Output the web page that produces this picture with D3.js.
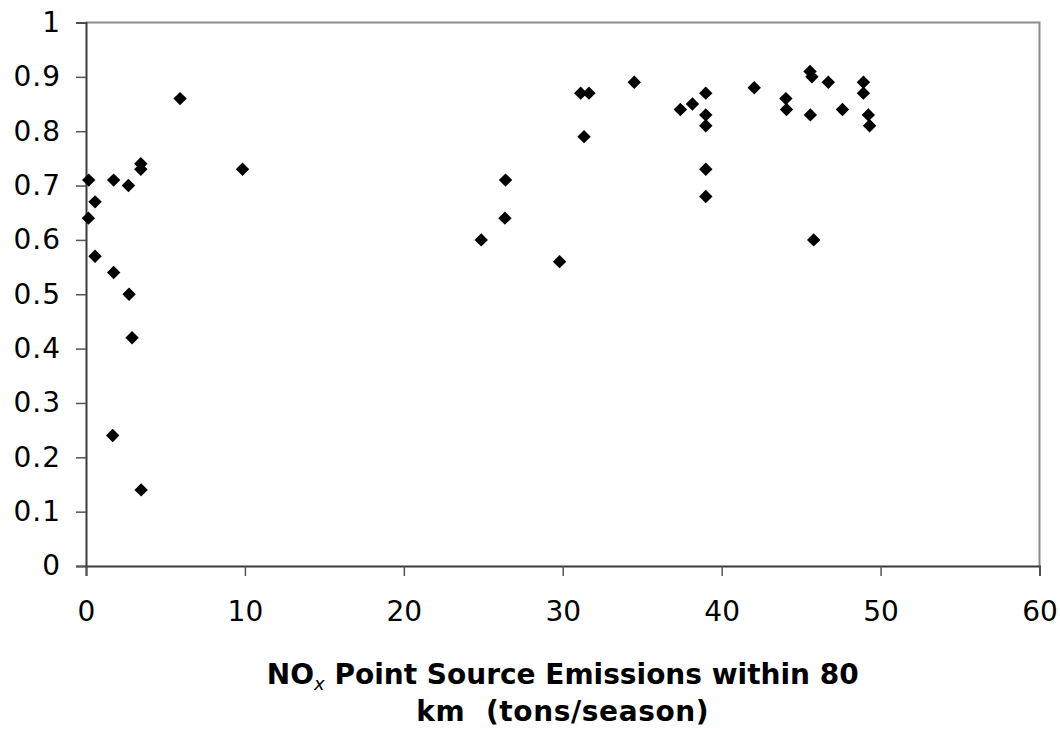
<!DOCTYPE html>
<html>
<head>
<meta charset="utf-8">
<script src="https://cdn.jsdelivr.net/npm/d3@7"></script>
<style>
  html, body { margin: 0; padding: 0; background: #fff; }
  svg { display: block; }
  text { font-family: "DejaVu Sans", Verdana, sans-serif; fill: #000; }
</style>
</head>
<body>
<svg id="chart" width="1060" height="730"></svg>
<script>
// NOx point source emissions within 80 km (tons/season)
const emissions = [
  0.17, 1.74, 2.67, 3.45, 3.45, 0.57, 0.15, 0.57, 1.74, 2.71,
  2.9, 1.68, 3.47, 5.92, 9.85,
  24.87, 26.36, 26.4, 29.8, 31.13, 31.65, 31.34, 34.5, 37.4, 38.16,
  39.0, 39.0, 39.0, 39.0, 39.0,
  42.05, 44.04, 44.08, 45.56, 45.68, 46.71, 45.58, 47.6, 48.92, 48.92,
  49.23, 49.31, 45.79
];
// paired response values
const response = [
  0.71, 0.71, 0.70, 0.74, 0.73, 0.67, 0.64, 0.57, 0.54, 0.50,
  0.42, 0.24, 0.14, 0.86, 0.73,
  0.60, 0.64, 0.71, 0.56, 0.87, 0.87, 0.79, 0.89, 0.84, 0.85,
  0.87, 0.83, 0.81, 0.73, 0.68,
  0.88, 0.86, 0.84, 0.91, 0.90, 0.89, 0.83, 0.84, 0.89, 0.87,
  0.83, 0.81, 0.60
];
const xTicks = [0, 10, 20, 30, 40, 50, 60];
const yTicks = [0, 0.1, 0.2, 0.3, 0.4, 0.5, 0.6, 0.7, 0.8, 0.9, 1];

const svg = d3.select("#chart");
const plotLeft = 86, plotRight = 1039.5, plotTop = 22.5, plotBottom = 566;

const x = d3.scaleLinear().domain([0, 60]).range([plotLeft, plotRight]);
const y = d3.scaleLinear().domain([0, 1]).range([plotBottom, plotTop]);

// plot frame: light top/right border
svg.append("path")
  .attr("d", `M${plotLeft},${plotTop}H${plotRight}V${plotBottom}`)
  .attr("fill", "none")
  .attr("stroke", "#8c8c8c")
  .attr("stroke-width", 2);

const tickFont = '"DejaVu Sans", Verdana, sans-serif';

// y axis
const yAxis = d3.axisLeft(y).tickValues(yTicks).tickSize(10).tickPadding(15)
  .tickFormat(d => d === 0 || d === 1 ? String(d) : d3.format(".1f")(d));
const gy = svg.append("g").attr("transform", `translate(${plotLeft},0)`).call(yAxis);
gy.select(".domain").attr("stroke", "#3a3a3a").attr("stroke-width", 2);
gy.selectAll(".tick line").attr("stroke", "#555").attr("stroke-width", 1.5);
gy.selectAll(".tick text")
  .style("font-family", tickFont)
  .style("font-size", "28px").style("letter-spacing", "1px").attr("fill", "#000");

// x axis
const xAxis = d3.axisBottom(x).tickValues(xTicks).tickSize(10).tickPadding(25)
  .tickFormat(d3.format("d"));
const gx = svg.append("g").attr("transform", `translate(0,${plotBottom})`).call(xAxis);
gx.select(".domain").attr("stroke", "#3a3a3a").attr("stroke-width", 2);
gx.selectAll(".tick line").attr("stroke", "#555").attr("stroke-width", 1.5);
gx.selectAll(".tick text")
  .style("font-family", tickFont)
  .style("font-size", "28px").attr("fill", "#000");

// diamond markers
const diamond = d3.symbol().type(d3.symbolSquare).size(90);
svg.append("g")
  .selectAll("path")
  .data(emissions.map((e, i) => [e, response[i]]))
  .join("path")
  .attr("d", diamond)
  .attr("transform", d => `translate(${x(d[0])},${y(d[1])}) rotate(45)`)
  .attr("fill", "#000");

// x axis title (two lines, subscript x)
const cx = (plotLeft + plotRight) / 2;
const t1 = svg.append("text")
  .attr("x", cx).attr("y", 684)
  .attr("text-anchor", "middle")
  .style("font-weight", "bold").style("font-size", "28px");
t1.append("tspan").text("NO");
t1.append("tspan").attr("dy", 6).style("font-size", "18px").style("font-style", "italic")
  .style("font-weight", "normal").text("x");
t1.append("tspan").attr("dy", -6).text(" Point Source Emissions within 80");

svg.append("text")
  .attr("x", cx).attr("y", 721)
  .attr("text-anchor", "middle")
  .style("font-weight", "bold").style("font-size", "28px")
  .style("letter-spacing", "0.6px")
  .attr("xml:space", "preserve")
  .text("km  (tons/season)");
</script>
</body>
</html>
